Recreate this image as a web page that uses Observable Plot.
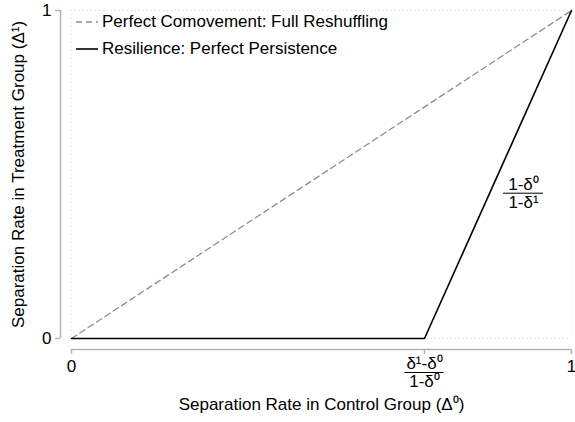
<!DOCTYPE html>
<html>
<head>
<meta charset="utf-8">
<script src="https://cdn.jsdelivr.net/npm/d3@7"></script>
<script src="https://cdn.jsdelivr.net/npm/@observablehq/plot@0.6"></script>
<style>
  body { margin: 0; background: #fff; font-family: "Liberation Sans", Arial, sans-serif; }
  #wrap { position: relative; width: 575px; height: 422px; }
  #legend { position: absolute; left: 76px; top: 8px; font-size: 17px; color: #000; line-height: 27px; }
  #legend .row { display: flex; align-items: center; white-space: nowrap; }
  #legend svg { margin-right: 4px; }
</style>
</head>
<body>
<div id="wrap"></div>
<script>
// Data
const comoveX = [0, 1];
const comoveY = [0, 1];
const kink = 0.706;
const resilX = [0, kink, 1];
const resilY = [0, 0, 1];
const xTicks = [0, kink, 1];
const xTickLabels = ["0", null, "1"];
const yTicks = [0, 1];
const yTickLabels = ["0", "1"];
const kinkNum = "δ¹-δ⁰";
const kinkDen = "1-δ⁰";
const slopeNum = "1-δ⁰";
const slopeDen = "1-δ¹";
const slopeLabelPos = { x: 0.904, y: 0.443 };
const legendItems = [
  { label: "Perfect Comovement: Full Reshuffling", dash: "6,4", color: "#8c8c8c" },
  { label: "Resilience: Perfect Persistence", dash: null, color: "#000" }
];

const comove = comoveX.map((x, i) => ({ x, y: comoveY[i] }));
const resil = resilX.map((x, i) => ({ x, y: resilY[i] }));
const xt = xTicks.map((x, i) => ({ x, label: xTickLabels[i] })).filter(d => d.label !== null);
const yt = yTicks.map((y, i) => ({ y, label: yTickLabels[i] }));

const axisColor = "#b4b4b4";
const gridColor = "#d8d8d8";
const fs = 17;

const chart = Plot.plot({
  width: 575,
  height: 422,
  marginLeft: 71,
  marginRight: 4,
  marginTop: 10,
  marginBottom: 84,
  style: { fontFamily: "Liberation Sans, Arial, sans-serif", fontSize: fs + "px", background: "#fff" },
  x: { domain: [0, 1], axis: null },
  y: { domain: [0, 1], axis: null },
  marks: [
    // dotted gridlines
    Plot.ruleX([0, 1], { stroke: gridColor, strokeDasharray: "1,3", strokeWidth: 1 }),
    Plot.ruleY([0, 1], { stroke: gridColor, strokeDasharray: "1,3", strokeWidth: 1 }),
    // y axis (offset)
    Plot.ruleX([0], { y1: 0, y2: 1, dx: -11, stroke: axisColor, strokeWidth: 1.5 }),
    Plot.ruleY(yTicks, { x1: 0, x2: 0, dx: -11, insetLeft: -5, stroke: axisColor, strokeWidth: 1.5 }),
    Plot.text(yt, { x: 0, y: "y", text: "label", dx: -20, textAnchor: "end", fontSize: fs }),
    // x axis (offset)
    Plot.ruleY([0], { x1: 0, x2: 1, dy: 11, stroke: axisColor, strokeWidth: 1.5 }),
    Plot.ruleX(xTicks, { y1: 0, y2: 0, dy: 11, insetBottom: -5, stroke: axisColor, strokeWidth: 1.5 }),
    Plot.text(xt, { x: "x", y: 0, text: "label", dy: 28, fontSize: fs }),
    // kink tick label as fraction
    Plot.text([kinkNum], { x: kink, y: 0, text: d => d, dy: 25, fontSize: fs }),
    Plot.ruleY([0], { x1: kink, x2: kink, dy: 34, insetLeft: -19.5, insetRight: -19.5, stroke: "#000", strokeWidth: 1 }),
    Plot.text([kinkDen], { x: kink, y: 0, text: d => d, dy: 43, fontSize: fs }),
    // axis titles
    Plot.text(["Separation Rate in Control Group (Δ⁰)"], { frameAnchor: "bottom", text: d => d, dy: 71, fontSize: fs }),
    Plot.text(["Separation Rate in Treatment Group (Δ¹)"], { frameAnchor: "left", textAnchor: "middle", text: d => d, dx: -53, rotate: -90, fontSize: fs }),
    // lines
    Plot.line(comove, { x: "x", y: "y", stroke: "#8c8c8c", strokeWidth: 1.3, strokeDasharray: "6,4" }),
    Plot.line(resil, { x: "x", y: "y", stroke: "#000", strokeWidth: 1.6 }),
    // slope label
    Plot.text([slopeNum], { x: slopeLabelPos.x, y: slopeLabelPos.y, text: d => d, dy: -9, fontSize: fs }),
    Plot.ruleY([slopeLabelPos.y], { x1: slopeLabelPos.x, x2: slopeLabelPos.x, insetLeft: -20, insetRight: -20, stroke: "#000", strokeWidth: 1 }),
    Plot.text([slopeDen], { x: slopeLabelPos.x, y: slopeLabelPos.y, text: d => d, dy: 9, fontSize: fs })
  ]
});

const wrap = document.getElementById("wrap");
wrap.appendChild(chart);

const legend = document.createElement("div");
legend.id = "legend";
for (const item of legendItems) {
  const row = document.createElement("div");
  row.className = "row";
  const ns = "http://www.w3.org/2000/svg";
  const s = document.createElementNS(ns, "svg");
  s.setAttribute("width", "22");
  s.setAttribute("height", "10");
  const l = document.createElementNS(ns, "line");
  l.setAttribute("x1", "0"); l.setAttribute("x2", "22");
  l.setAttribute("y1", "5"); l.setAttribute("y2", "5");
  l.setAttribute("stroke", item.color);
  l.setAttribute("stroke-width", item.dash ? "1.3" : "1.6");
  if (item.dash) l.setAttribute("stroke-dasharray", item.dash);
  s.appendChild(l);
  const t = document.createElement("span");
  t.textContent = item.label;
  row.appendChild(s);
  row.appendChild(t);
  legend.appendChild(row);
}
wrap.appendChild(legend);
</script>
</body>
</html>
